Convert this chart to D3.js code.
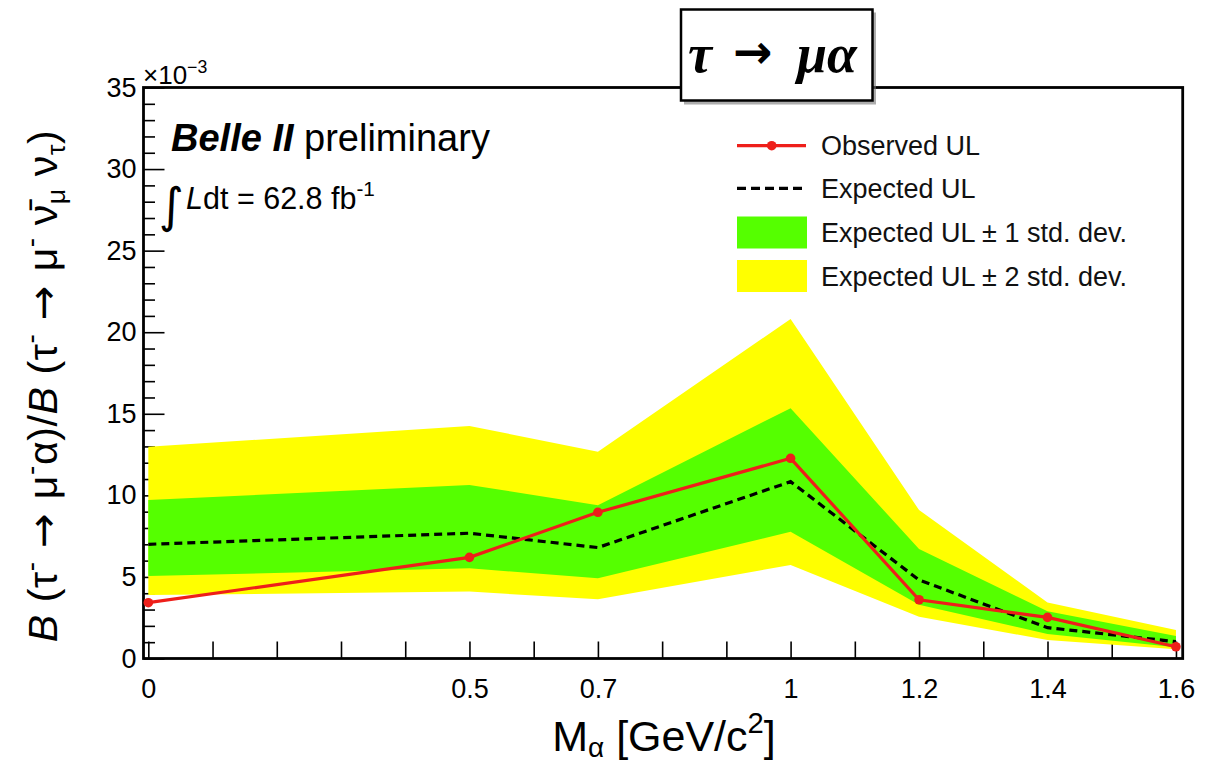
<!DOCTYPE html>
<html><head><meta charset="utf-8">
<script src="https://cdn.jsdelivr.net/npm/d3@7"></script>
<style>
body{margin:0;background:#fff;}
svg{display:block;font-family:"Liberation Sans",Arial,sans-serif;}
</style></head>
<body>
<svg id="c" width="1216" height="768"></svg>
<script>
// ---- data (branching-ratio ratio, units of 1e-3) ----
const mass      = [0, 0.5, 0.7, 1.0, 1.2, 1.4, 1.6];
const observed  = [3.42, 6.2, 8.96, 12.27, 3.6, 2.52, 0.72];
const expected  = [7.0, 7.68, 6.8, 10.84, 4.81, 1.89, 1.03];
const plus1     = [9.72, 10.64, 9.4, 15.34, 6.71, 2.9, 1.38];
const minus1    = [5.06, 5.53, 4.92, 7.77, 3.3, 1.5, 0.69];
const plus2     = [12.98, 14.25, 12.68, 20.81, 9.1, 3.44, 1.75];
const minus2    = [3.89, 4.1, 3.63, 5.73, 2.56, 1.13, 0.56];
const xTickLabels = [0, 0.5, 0.7, 1, 1.2, 1.4, 1.6];
const yTickLabels = [0, 5, 10, 15, 20, 25, 30, 35];
const legendLabels = ["Observed UL", "Expected UL", "Expected UL \u00b1 1 std. dev.", "Expected UL \u00b1 2 std. dev."];

const svg = d3.select("#c");
const L = 143.5, R = 1182.7, T = 87.5, B = 658.5;
const x = d3.scaleLinear().domain([-0.0075, 1.6105]).range([L, R]);
const y = d3.scaleLinear().domain([0, 35]).range([B, T]);

const GREEN = "#55ff00", YELLOW = "#ffff00", RED = "#ee1f1a";

// ---- axes ----
const xMinor = d3.range(0, 17).map(i => i / 10);
const xAxis = d3.axisBottom(x).tickValues(xMinor).tickSizeInner(-17).tickSizeOuter(0)
  .tickFormat(d => xTickLabels.some(v => Math.abs(v - d) < 1e-9) ? d3.format("~g")(d) : "");
const gx = svg.append("g").attr("transform", `translate(0,${B})`).call(xAxis);
gx.select(".domain").remove();
gx.selectAll(".tick line").attr("stroke", "#000").attr("stroke-width", 1.6);
gx.selectAll(".tick text").attr("font-size", 27).attr("fill", "#000").attr("dy", null).attr("y", 39)
  .attr("font-family", "Liberation Sans, Arial, sans-serif");

const yMinor = d3.range(0, 36);
const gyMinor = svg.append("g").attr("transform", `translate(${L},0)`)
  .call(d3.axisLeft(y).tickValues(yMinor.filter(v => v % 5 !== 0)).tickSizeInner(-11.5).tickSizeOuter(0).tickFormat(""));
gyMinor.select(".domain").remove();
gyMinor.selectAll(".tick line").attr("stroke", "#000").attr("stroke-width", 1.6);
const gy = svg.append("g").attr("transform", `translate(${L},0)`)
  .call(d3.axisLeft(y).tickValues(yTickLabels).tickSizeInner(-21).tickSizeOuter(0).tickFormat(d3.format("d")).tickPadding(7));
gy.select(".domain").remove();
gy.selectAll(".tick line").attr("stroke", "#000").attr("stroke-width", 1.6);
gy.selectAll(".tick text").attr("font-size", 27).attr("fill", "#000").attr("x", -7)
  .attr("font-family", "Liberation Sans, Arial, sans-serif");

// frame
svg.append("rect").attr("x", L).attr("y", T).attr("width", R - L).attr("height", B - T)
  .attr("fill", "none").attr("stroke", "#000").attr("stroke-width", 2.8);

// ---- bands ----
const idx = d3.range(mass.length);
function band(lo, hi) {
  return d3.area().x(i => x(mass[i])).y0(i => y(lo[i])).y1(i => y(hi[i]))(idx);
}
svg.append("path").attr("d", band(minus2, plus2)).attr("fill", YELLOW);
svg.append("path").attr("d", band(minus1, plus1)).attr("fill", GREEN);

// expected
svg.append("path").attr("d", d3.line().x(i => x(mass[i])).y(i => y(expected[i]))(idx))
  .attr("fill", "none").attr("stroke", "#000").attr("stroke-width", 3.2).attr("stroke-dasharray", "8,5");
// observed
svg.append("path").attr("d", d3.line().x(i => x(mass[i])).y(i => y(observed[i]))(idx))
  .attr("fill", "none").attr("stroke", RED).attr("stroke-width", 3.2);
svg.selectAll(".obs").data(idx).enter().append("circle")
  .attr("cx", i => x(mass[i])).attr("cy", i => y(observed[i])).attr("r", 4.8).attr("fill", RED);

// ---- rich text helper ----
function rich(sel, parts, fs) {
  let off = 0;
  parts.forEach(p => {
    const ts = sel.append("tspan").text(p.t);
    let target = 0, size = fs;
    if (p.sup) { target = -0.42 * fs; size = fs * 0.68; }
    if (p.sub) { target = (p.subOff || 0.2) * fs; size = fs * 0.65; }
    ts.attr("font-size", size).attr("dy", target - off);
    off = target;
    if (p.it) ts.attr("font-style", "italic");
    if (p.bf) ts.attr("font-weight", "bold");
    if (p.f) ts.attr("font-family", p.f);
  });
}
const DJ = "DejaVu Sans, sans-serif";

// exponent
const ex = svg.append("text").attr("x", 143).attr("y", 84).attr("fill", "#000");
rich(ex, [{t: "\u00d710"}, {t: "\u22123", sup: true}], 26);

// y title
const yt = svg.append("text").attr("transform", "translate(57,386) rotate(-90)")
  .attr("text-anchor", "middle").attr("fill", "#000").attr("letter-spacing", 0.6);
rich(yt, [
  {t: "B", it: true}, {t: " (\u03c4"}, {t: "-", sup: true}, {t: " \u2192 ", f: DJ}, {t: "\u03bc"}, {t: "-", sup: true},
  {t: "\u03b1)/"}, {t: "B", it: true}, {t: " (\u03c4"}, {t: "-", sup: true}, {t: " \u2192 ", f: DJ}, {t: "\u03bc"},
  {t: "-", sup: true}, {t: "  \u03bd\u0304"}, {t: "\u03bc", sub: true}, {t: "  \u03bd"}, {t: "\u03c4", sub: true}, {t: ")"}
], 41);

// x title
const xt = svg.append("text").attr("x", 664).attr("y", 751).attr("text-anchor", "middle").attr("fill", "#000");
rich(xt, [{t: "M"}, {t: "\u03b1", sub: true, subOff: 0.14}, {t: " [GeV/c"}, {t: "2", sup: true}, {t: "]"}], 43);

// Belle II preliminary
const bt = svg.append("text").attr("x", 171).attr("y", 151).attr("fill", "#000");
rich(bt, [{t: "Belle II", it: true, bf: true}, {t: " preliminary"}], 38);

// luminosity
svg.append("text").attr("x", 159).attr("y", 222).attr("font-size", 48).attr("fill", "#000")
  .attr("font-family", "DejaVu Sans, sans-serif").text("\u222b");
const lt = svg.append("text").attr("x", 186).attr("y", 209).attr("fill", "#000");
rich(lt, [{t: "L", it: true}, {t: "dt = 62.8 fb"}, {t: "-1", sup: true}], 30.5);

// ---- legend ----
const lg = svg.append("g");
const rowY = [145.7, 188.3, 232.5, 276];
lg.append("line").attr("x1", 737).attr("x2", 806).attr("y1", rowY[0]).attr("y2", rowY[0])
  .attr("stroke", RED).attr("stroke-width", 3.2);
lg.append("circle").attr("cx", 771.7).attr("cy", rowY[0]).attr("r", 4.8).attr("fill", RED);
lg.append("line").attr("x1", 737).attr("x2", 802).attr("y1", rowY[1]).attr("y2", rowY[1])
  .attr("stroke", "#000").attr("stroke-width", 3.2).attr("stroke-dasharray", "9,5");
lg.append("rect").attr("x", 737).attr("y", rowY[2] - 16).attr("width", 70).attr("height", 32).attr("fill", GREEN);
lg.append("rect").attr("x", 737).attr("y", rowY[3] - 16).attr("width", 70).attr("height", 32).attr("fill", YELLOW);
lg.selectAll(".lt").data(legendLabels).enter().append("text")
  .attr("x", 821).attr("y", (d, i) => rowY[i] + 9.5).attr("font-size", 27).attr("fill", "#111").text(d => d);

// ---- title box ----
svg.append("rect").attr("x", 684).attr("y", 12.5).attr("width", 192).attr("height", 92).attr("fill", "#777").attr("opacity", 0.6);
svg.append("rect").attr("x", 681).attr("y", 9.5).attr("width", 191.5).attr("height", 91)
  .attr("fill", "#fff").attr("stroke", "#000").attr("stroke-width", 2.5);
const serif = "Liberation Serif, Times New Roman, serif";
svg.append("text").attr("x", 688).attr("y", 72).attr("font-family", serif).attr("font-style", "italic")
  .attr("font-weight", "bold").attr("font-size", 54).text("\u03c4");
svg.append("text").attr("x", 733).attr("y", 68).attr("font-family", DJ)
  .attr("font-weight", "bold").attr("font-size", 47).text("\u2192");
svg.append("text").attr("x", 797).attr("y", 72).attr("font-family", serif).attr("font-style", "italic")
  .attr("font-weight", "bold").attr("font-size", 54).text("\u03bc\u03b1");
</script>
</body></html>
